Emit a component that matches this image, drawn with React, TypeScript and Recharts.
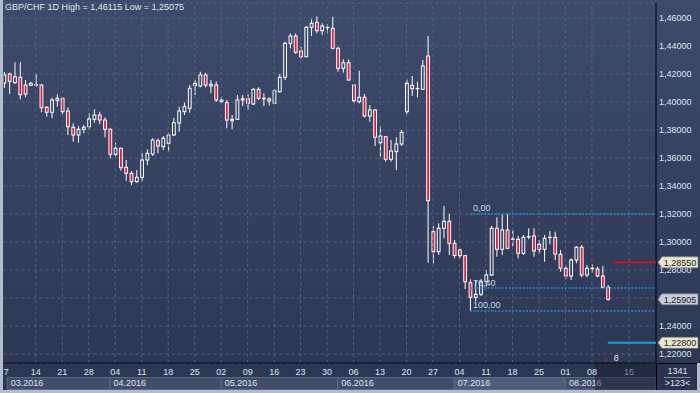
import React from 'react';
import {
  ComposedChart,
  Bar,
  XAxis,
  YAxis,
  CartesianGrid,
  ReferenceLine,
  ReferenceArea,
  ReferenceDot,
} from 'recharts';

// daily candles, Fri 04.03.2016 .. Thu 11.08.2016 (index = trading day)
const opens = [
  1.41357, 1.42, 1.41379, 1.41764, 1.41214, 1.41193, 1.41214, 1.41214, 1.39621, 1.39264,
  1.40121, 1.40264, 1.39357, 1.38193, 1.37643, 1.3805, 1.38236, 1.38764, 1.39071, 1.38714,
  1.3805, 1.36264, 1.36693, 1.35336, 1.34907, 1.34307, 1.34621, 1.35857, 1.36286, 1.37236,
  1.36807, 1.3705, 1.37643, 1.385, 1.39307, 1.3955, 1.41321, 1.41143, 1.41929, 1.41143,
  1.41214, 1.40021, 1.3995, 1.38664, 1.38764, 1.40143, 1.40236, 1.39857, 1.40907, 1.40236,
  1.40214, 1.39907, 1.40736, 1.41764, 1.44193, 1.44714, 1.43643, 1.43236, 1.45336, 1.45693,
  1.45093, 1.45321, 1.45264, 1.43836, 1.42407, 1.42807, 1.41214, 1.40021, 1.40336, 1.39,
  1.39429, 1.37093, 1.37521, 1.35907, 1.3645, 1.37, 1.39307, 1.41193, 1.4095, 1.40907,
  1.43286, 1.30736, 1.29307, 1.30979, 1.31479, 1.29907, 1.29429, 1.29021, 1.27093, 1.2605,
  1.26264, 1.27164, 1.27643, 1.30979, 1.29479, 1.30857, 1.30193, 1.30193, 1.29193, 1.30357,
  1.30429, 1.29836, 1.29479, 1.30321, 1.30336, 1.29121, 1.28121, 1.27571, 1.28714, 1.29621,
  1.27643, 1.28107, 1.28071, 1.27571, 1.26764,
];
const highs = [
  1.42143, 1.42093, 1.42836, 1.42836, 1.41571, 1.41429, 1.42, 1.41264, 1.39714, 1.40307,
  1.4055, 1.40357, 1.39621, 1.38479, 1.38286, 1.38357, 1.39193, 1.39479, 1.39307, 1.38907,
  1.38121, 1.37093, 1.36736, 1.35857, 1.35071, 1.35143, 1.36336, 1.36621, 1.37407, 1.37407,
  1.37571, 1.37807, 1.38857, 1.39664, 1.3995, 1.41214, 1.41571, 1.42164, 1.42093, 1.41571,
  1.4145, 1.40379, 1.40143, 1.39071, 1.405, 1.405, 1.4055, 1.40979, 1.4105, 1.40621,
  1.40336, 1.40907, 1.42, 1.44307, 1.44907, 1.44907, 1.4395, 1.45429, 1.45907, 1.46115,
  1.45621, 1.45571, 1.46093, 1.4395, 1.4305, 1.4305, 1.41286, 1.42236, 1.40571, 1.39786,
  1.395, 1.38286, 1.37571, 1.37286, 1.37479, 1.38, 1.41621, 1.41857, 1.4145, 1.43,
  1.44714, 1.31143, 1.31336, 1.32571, 1.32, 1.30143, 1.2955, 1.29071, 1.27336, 1.27286,
  1.27357, 1.28, 1.31143, 1.31764, 1.3198, 1.3198, 1.30857, 1.30429, 1.305, 1.30979,
  1.30979, 1.30143, 1.305, 1.30786, 1.30736, 1.29429, 1.28357, 1.28836, 1.29714, 1.29786,
  1.28357, 1.28429, 1.28236, 1.28286, 1.26929,
];
const lows = [
  1.41, 1.40571, 1.41286, 1.40193, 1.40336, 1.41143, 1.41071, 1.39264, 1.3895, 1.38836,
  1.39664, 1.39143, 1.37643, 1.37164, 1.37093, 1.37764, 1.3805, 1.38521, 1.38429, 1.37479,
  1.35979, 1.36093, 1.35093, 1.34379, 1.34071, 1.34236, 1.34307, 1.355, 1.36143, 1.36336,
  1.36571, 1.3645, 1.37571, 1.37879, 1.39071, 1.39236, 1.405, 1.4105, 1.4105, 1.40621,
  1.40021, 1.39907, 1.38121, 1.3805, 1.38714, 1.39714, 1.39429, 1.39786, 1.40143, 1.39714,
  1.39764, 1.39857, 1.40664, 1.41571, 1.43836, 1.43429, 1.43121, 1.43193, 1.44714, 1.44907,
  1.44786, 1.44907, 1.43764, 1.42164, 1.42093, 1.41521, 1.39907, 1.39907, 1.38907, 1.38593,
  1.36857, 1.36093, 1.35736, 1.35736, 1.35143, 1.36857, 1.39143, 1.40429, 1.40336, 1.40857,
  1.28521, 1.28479, 1.29071, 1.30264, 1.29071, 1.28836, 1.28836, 1.26643, 1.25075, 1.25736,
  1.26143, 1.26807, 1.27571, 1.2895, 1.29071, 1.29479, 1.29714, 1.28836, 1.29071, 1.30193,
  1.2895, 1.29193, 1.28593, 1.29836, 1.28714, 1.27879, 1.27336, 1.27286, 1.28479, 1.27479,
  1.27479, 1.27807, 1.27479, 1.26693, 1.25807,
];
const closes = [
  1.41929, 1.41479, 1.41807, 1.40521, 1.40571, 1.41336, 1.4125, 1.39593, 1.39264, 1.40143,
  1.40264, 1.39307, 1.38236, 1.37643, 1.3805, 1.38193, 1.38786, 1.39071, 1.38714, 1.3805,
  1.36264, 1.36693, 1.35307, 1.34907, 1.34307, 1.34621, 1.35857, 1.36336, 1.37286, 1.36857,
  1.37407, 1.37643, 1.38521, 1.39357, 1.39664, 1.40979, 1.41179, 1.41929, 1.41214, 1.41264,
  1.40143, 1.40143, 1.38714, 1.38764, 1.40143, 1.40236, 1.39907, 1.40907, 1.40264, 1.40264,
  1.40071, 1.40807, 1.41764, 1.44193, 1.44714, 1.4355, 1.43236, 1.45336, 1.45621, 1.45093,
  1.45429, 1.45336, 1.43836, 1.42407, 1.42807, 1.41571, 1.40093, 1.40336, 1.39, 1.39429,
  1.37479, 1.37571, 1.35907, 1.365, 1.37, 1.37836, 1.41336, 1.4095, 1.40964, 1.42571,
  1.3295, 1.29307, 1.30979, 1.31479, 1.29907, 1.29036, 1.29021, 1.27164, 1.2605, 1.26264,
  1.27164, 1.27643, 1.30979, 1.29479, 1.30857, 1.2955, 1.30214, 1.29193, 1.30336, 1.30379,
  1.29357, 1.29479, 1.30264, 1.30336, 1.29143, 1.28121, 1.27571, 1.28714, 1.29621, 1.27643,
  1.28121, 1.28121, 1.27571, 1.26764, 1.25905,
];

const weekTicks = [1, 6, 11, 16, 21, 26, 31, 36, 41, 46, 51, 56, 61, 66, 71, 76, 81, 86, 91, 96, 101, 106, 111, 118];
const weekLabels = ['7', '14', '21', '28', '04', '11', '18', '25', '02', '09', '16', '23', '30', '06', '13', '20', '27', '04', '11', '18', '25', '01', '08', '15'];
const priceTicks = [1.22, 1.24, 1.26, 1.28, 1.3, 1.32, 1.34, 1.36, 1.38, 1.4, 1.42, 1.44, 1.46];

const monthStarts = [0.6, 20, 41, 63, 85, 106];
const monthEnds = [20, 41, 63, 85, 106, 123.1];
const monthLabels = ['03.2016', '04.2016', '05.2016', '06.2016', '07.2016', '08.2016'];

const fibLevels = [1.32, 1.2671, 1.25075];
const fibLabels = ['0,00', '76,40', '100,00'];
const fibStart = 88;

const redLevel = 1.2855;
const blueLevel = 1.228;
const lastIndex = opens.length - 1;

const candles = opens.map((open, i) => ({
  i,
  open,
  high: highs[i],
  low: lows[i],
  close: closes[i],
  range: [lows[i], highs[i]],
}));

const fmt = (v: number) => v.toFixed(5).replace('.', ',');
const X_MAX = 123.1;

const Candle = (props: any) => {
  const { x, y, width, height, payload } = props;
  if (!payload || height == null) return null;
  const cx = x + width / 2;
  const span = payload.high - payload.low || 1;
  const toY = (v: number) => y + ((payload.high - v) / span) * height;
  const up = payload.close >= payload.open;
  const top = toY(Math.max(payload.open, payload.close));
  const bottom = toY(Math.min(payload.open, payload.close));
  return (
    <g>
      <line x1={cx} x2={cx} y1={y} y2={top} stroke="#fff" />
      <line x1={cx} x2={cx} y1={bottom} y2={y + height} stroke="#fff" />
      <rect
        x={cx - 1.4}
        y={top}
        width={2.8}
        height={Math.max(bottom - top, 0)}
        fill={up ? 'none' : '#de1a3d'}
        stroke="#fff"
        strokeWidth={1}
      />
    </g>
  );
};

const DayTick = (props: any) => {
  const { x, y, payload } = props;
  const k = weekTicks.indexOf(payload.value);
  return (
    <text
      x={k === 0 ? x - 3 : x}
      y={y + 12}
      textAnchor="middle"
      fontSize={9}
      fill={payload.value > lastIndex ? '#7f889c' : '#dfe3ec'}
    >
      {weekLabels[k]}
    </text>
  );
};

const PriceTag = (props: any) => {
  const { viewBox, text, fill } = props;
  const x = viewBox.x + viewBox.width + 2;
  const y = viewBox.y;
  return (
    <g>
      <path
        d={`M${x} ${y} L${x + 4} ${y - 5.5} L${x + 40} ${y - 5.5} L${x + 40} ${y + 5.5} L${x + 4} ${y + 5.5} Z`}
        fill={fill}
        stroke="#7d8494"
        strokeWidth={0.6}
      />
      <text x={x + 22} y={y + 3.3} textAnchor="middle" fontSize={9} fill="#1b2131">
        {text}
      </text>
    </g>
  );
};

const FibLabel = (props: any) => {
  const { viewBox, text } = props;
  return (
    <text x={viewBox.x + 3} y={viewBox.y - 2.5} fontSize={9} fill="#c6d4ea">
      {text}
    </text>
  );
};

const MonthLabel = (props: any) => {
  const { viewBox, text } = props;
  return (
    <text x={viewBox.x + 3.5} y={viewBox.y + viewBox.height - 3.6} fontSize={9} fill="#dfe3ec">
      {text}
    </text>
  );
};

const Marker = (props: any) => {
  const { cx, cy } = props;
  return (
    <g>
      <path d={`M${cx - 4} ${cy + 2} L${cx - 1.5} ${cy - 2} L${cx + 1} ${cy + 2} Z`} fill="#5c3a56" />
      <text x={cx + 8.5} y={cy + 2} textAnchor="middle" fontSize={9} fill="#dfe3ec">
        8
      </text>
    </g>
  );
};

export default function App() {
  return (
    <div
      style={{
        position: 'absolute',
        left: 0,
        top: 0,
        width: 700,
        height: 393,
        overflow: 'hidden',
        background: 'linear-gradient(180deg, #3e4b6b 0%, #2b3652 100%)',
        fontFamily: '"Liberation Sans", Arial, sans-serif',
      }}
    >
      <ComposedChart
        width={700}
        height={393}
        data={candles}
        margin={{ top: 3, right: 0, bottom: 0, left: 3.5 }}
      >
        <CartesianGrid vertical={false} stroke="#56627f" strokeDasharray="3 3" />
        <XAxis
          dataKey="i"
          type="number"
          domain={[-0.1, X_MAX]}
          allowDataOverflow
          ticks={weekTicks}
          interval={0}
          height={30}
          tickSize={0}
          tickMargin={0}
          tickLine={false}
          axisLine={{ stroke: '#000' }}
          tick={<DayTick />}
        />
        <YAxis
          orientation="right"
          type="number"
          domain={[1.2135714, 1.4707143]}
          allowDataOverflow
          ticks={priceTicks}
          interval={0}
          width={44}
          tickSize={0}
          tickMargin={3}
          tickLine={false}
          axisLine={{ stroke: '#000' }}
          tickFormatter={fmt}
          tick={{ fontSize: 9, fill: '#dfe3ec' }}
        />
        {weekTicks
          .filter((t) => t > 1)
          .map((t) => (
            <ReferenceLine key={`v${t}`} x={t} stroke="#56627f" strokeDasharray="3 3" />
          ))}
        {monthLabels.map((m, k) => (
          <ReferenceArea
            key={m}
            x1={monthStarts[k]}
            x2={monthEnds[k]}
            y1={1.194643}
            y2={1.203214}
            ifOverflow="visible"
            fill={m === '07.2016' ? '#505c7a' : '#424d6a'}
            fillOpacity={1}
            stroke="#5e6985"
            label={<MonthLabel text={m} />}
          />
        ))}
        <ReferenceArea
          x1={111.6}
          x2={X_MAX}
          y1={1.1943}
          y2={1.2133}
          ifOverflow="visible"
          fill="#131a2c"
          fillOpacity={0.45}
          stroke="none"
        />
        {fibLevels.map((lvl, k) => (
          <ReferenceLine
            key={fibLabels[k]}
            segment={[
              { x: fibStart, y: lvl },
              { x: X_MAX, y: lvl },
            ]}
            stroke="#1f8fd6"
            strokeWidth={1.5}
            strokeDasharray="2 1.5"
            label={<FibLabel text={fibLabels[k]} />}
          />
        ))}
        <Bar dataKey="range" barSize={4} shape={<Candle />} isAnimationActive={false} />
        <ReferenceLine
          segment={[
            { x: lastIndex + 1, y: redLevel },
            { x: X_MAX, y: redLevel },
          ]}
          stroke="#cc1030"
          strokeWidth={2}
          zIndex={2500}
          label={<PriceTag text={fmt(redLevel)} fill="#e8e5c9" />}
        />
        <ReferenceLine
          y={closes[lastIndex]}
          stroke="none"
          zIndex={2500}
          label={<PriceTag text={fmt(closes[lastIndex])} fill="#c9cdd7" />}
        />
        <ReferenceLine
          segment={[
            { x: lastIndex, y: blueLevel },
            { x: X_MAX, y: blueLevel },
          ]}
          stroke="#1a9ee0"
          strokeWidth={2}
          zIndex={2500}
          label={<PriceTag text={fmt(blueLevel)} fill="#e8e5c9" />}
        />
        <ReferenceDot x={lastIndex} y={1.2164} r={0} shape={<Marker />} />
      </ComposedChart>

      <div
        style={{
          position: 'absolute',
          left: 5,
          top: 2,
          fontSize: 9,
          lineHeight: '11px',
          color: '#e3e6ee',
          whiteSpace: 'nowrap',
        }}
      >
        GBP/CHF 1D High = 1,46115 Low = 1,25075
      </div>
      <div
        style={{
          position: 'absolute',
          left: 656,
          top: 363,
          width: 41,
          height: 26,
          borderLeft: '1px solid #000',
          borderTop: '1px solid #000',
          background: '#2a3450',
          color: '#dfe3ec',
          fontSize: 9,
          textAlign: 'center',
        }}
      >
        <div style={{ lineHeight: '12px', marginTop: 1 }}>1341</div>
        <div style={{ borderTop: '1px solid #7c859a', margin: '0 7px' }} />
        <div style={{ lineHeight: '11px' }}>&gt;123&lt;</div>
      </div>
      <div style={{ position: 'absolute', left: 0, top: 0, width: 3, height: 393, background: '#b4bccb' }} />
      <div style={{ position: 'absolute', left: 0, top: 390, width: 700, height: 3, background: '#b4bccb' }} />
      <div style={{ position: 'absolute', left: 697, top: 363, width: 3, height: 30, background: '#b4bccb' }} />
    </div>
  );
}
